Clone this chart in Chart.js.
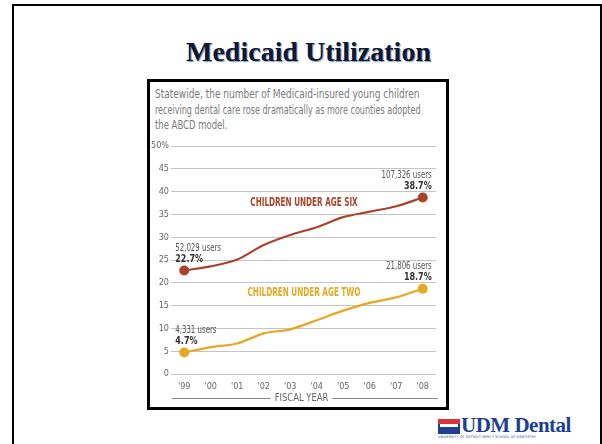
<!DOCTYPE html>
<html>
<head>
<meta charset="utf-8">
<script src="https://cdn.jsdelivr.net/npm/chart.js@4.4.1/dist/chart.umd.min.js"></script>
<style>
  html, body { margin: 0; padding: 0; background: #fff; }
  body { width: 602px; height: 444px; position: relative; overflow: hidden; }
  .frame { position: absolute; left: 12px; top: 4px; width: 586px; height: 460px; border: 2px solid #000; }
  .title {
    position: absolute; left: 0; width: 617px; top: 36px; text-align: center;
    font-family: 'Liberation Serif', 'DejaVu Serif', serif; font-weight: bold; font-size: 28px;
    color: #10182e; text-shadow: 1px 1px 1px #7a9cc8;
  }
  .box { position: absolute; left: 147px; top: 79px; width: 296px; height: 325px; border: 3px solid #000; }
  .caption {
    position: absolute; left: 155px; top: 87px;
    font-family: 'Liberation Sans Narrow', 'DejaVu Sans Condensed', sans-serif; font-size: 11.5px;
    line-height: 15.5px; color: #7a7a7a;
  }
  .caption div { white-space: nowrap; transform-origin: left top; }
  #chartWrap { position: absolute; left: 150px; top: 130px; width: 296px; height: 278px; }
  .logo { position: absolute; left: 438px; top: 414px; width: 140px; height: 26px; }
  .flag { position: absolute; left: 0; top: 5px; width: 22px; height: 15px; background: #1c3f94; }
  .flag .red { position: absolute; left: 0; top: 0; width: 22px; height: 5px; background: #d8343a; }
  .flag .white { position: absolute; left: 2px; top: 5px; width: 18px; height: 3px; background: #fff; }
  .logo .name {
    position: absolute; left: 23px; top: -1px; font-family: 'Liberation Serif', 'DejaVu Serif', serif;
    font-weight: bold; font-size: 21px; color: #1c3f94; letter-spacing: -0.5px; white-space: nowrap;
  }
  .logo .sub {
    position: absolute; left: 0; top: 21px; font-family: 'DejaVu Sans Condensed', sans-serif;
    font-size: 3.5px; color: #1c3f94; white-space: nowrap; letter-spacing: 0.2px;
  }
</style>
</head>
<body>
<div class="frame"></div>
<div class="title">Medicaid Utilization</div>
<div class="box"></div>
<div class="caption">
  <div style="transform: scaleX(0.87)">Statewide, the number of Medicaid-insured young children</div>
  <div style="transform: scaleX(0.78)">receiving dental care rose dramatically as more counties adopted</div>
  <div style="transform: scaleX(0.82)">the ABCD model.</div>
</div>
<div id="chartWrap"><canvas id="chart" width="296" height="278"></canvas></div>
<div class="logo">
  <div class="flag"><div class="red"></div><div class="white"></div></div>
  <div class="name">UDM Dental</div>
  <div class="sub">UNIVERSITY OF DETROIT MERCY SCHOOL OF DENTISTRY</div>
</div>

<script>
// data
const years = ["'99", "'00", "'01", "'02", "'03", "'04", "'05", "'06", "'07", "'08"];
const underSix = [22.7, 23.6, 25.1, 28.3, 30.5, 32.2, 34.4, 35.6, 36.8, 38.7];
const underTwo = [4.7, 5.9, 6.7, 8.9, 9.8, 11.8, 13.9, 15.6, 16.8, 18.7];
const seriesNames = ['CHILDREN UNDER AGE SIX', 'CHILDREN UNDER AGE TWO'];
const firstUsers = ['52,029 users', '4,331 users'];
const lastUsers = ['107,326 users', '21,806 users'];
const yTicks = [0, 5, 10, 15, 20, 25, 30, 35, 40, 45, 50];
const axisTitle = 'FISCAL YEAR';

const RED = '#a9432b';
const GOLD = '#e6a823';
const NARROW = "'Liberation Sans Narrow', 'DejaVu Sans Condensed', sans-serif";

// text squeezed horizontally, the picture uses a condensed face
function narrowText(ctx, text, x, y, sx) {
    ctx.save();
    ctx.translate(x, y);
    ctx.scale(sx, 1);
    ctx.fillText(text, 0, 0);
    ctx.restore();
}

// labels next to the end points, series names and the axis title with its rules
const annotations = {
    id: 'annotations',
    afterDatasetsDraw(chart) {
        const ctx = chart.ctx;
        const x = chart.scales.x, y = chart.scales.y;
        ctx.save();
        ctx.textBaseline = 'middle';

        chart.data.datasets.forEach((ds, i) => {
            const meta = chart.getDatasetMeta(i);
            const p0 = meta.data[0];
            const p1 = meta.data[meta.data.length - 1];

            ctx.fillStyle = '#555';
            ctx.font = '10px ' + NARROW;
            ctx.textAlign = 'left';
            narrowText(ctx, firstUsers[i], p0.x - 9, p0.y - 22, 0.78);
            ctx.textAlign = 'right';
            narrowText(ctx, lastUsers[i], p1.x + 9, p1.y - 22, 0.78);

            ctx.fillStyle = '#333';
            ctx.font = 'bold 10.5px ' + NARROW;
            ctx.textAlign = 'left';
            narrowText(ctx, ds.data[0].toFixed(1) + '%', p0.x - 9, p0.y - 11, 0.85);
            ctx.textAlign = 'right';
            narrowText(ctx, ds.data[ds.data.length - 1].toFixed(1) + '%', p1.x + 9, p1.y - 11, 0.85);
        });

        // series names, centred between the '03 and '04 points
        const pts = chart.getDatasetMeta(0).data;
        const nameX = (pts[4].x + pts[5].x) / 2 + 0.5;
        ctx.textAlign = 'center';
        ctx.font = 'bold 11.5px ' + NARROW;
        ctx.fillStyle = RED;
        narrowText(ctx, seriesNames[0], nameX, y.getPixelForValue(37.5), 0.7);
        ctx.fillStyle = GOLD;
        narrowText(ctx, seriesNames[1], nameX, y.getPixelForValue(17.8), 0.7);

        // fiscal year title with lines
        const ty = chart.chartArea.bottom + 24;
        const cx = (x.left + x.right) / 2 - 2;
        ctx.font = '11px ' + NARROW;
        ctx.fillStyle = '#666';
        narrowText(ctx, axisTitle, cx, ty, 0.85);
        const w = ctx.measureText(axisTitle).width * 0.85;
        ctx.strokeStyle = '#888';
        ctx.lineWidth = 1;
        ctx.beginPath();
        ctx.moveTo(x.left + 1, ty + 0.5);
        ctx.lineTo(cx - w / 2 - 4, ty + 0.5);
        ctx.moveTo(cx + w / 2 + 4, ty + 0.5);
        ctx.lineTo(x.right + 2, ty + 0.5);
        ctx.stroke();
        ctx.restore();
    }
};

function endPoints(ctx) {
    const n = ctx.dataset.data.length;
    return (ctx.dataIndex === 0 || ctx.dataIndex === n - 1) ? 5 : 0;
}

new Chart(document.getElementById('chart'), {
    type: 'line',
    data: {
        labels: years,
        datasets: [{
            label: seriesNames[0],
            data: underSix,
            borderColor: RED,
            backgroundColor: RED,
            borderWidth: 2.2,
            tension: 0.3,
            pointRadius: endPoints,
            pointBorderWidth: 0
        }, {
            label: seriesNames[1],
            data: underTwo,
            borderColor: GOLD,
            backgroundColor: GOLD,
            borderWidth: 2.2,
            tension: 0.3,
            pointRadius: endPoints,
            pointBorderWidth: 0
        }]
    },
    options: {
        responsive: false,
        animation: false,
        events: [],
        layout: { padding: { top: 16, right: 10, left: 0, bottom: 0 } },
        plugins: {
            legend: { display: false },
            title: { display: false },
            tooltip: { enabled: false }
        },
        scales: {
            x: {
                offset: true,
                grid: { display: false, drawTicks: false },
                border: { display: false },
                ticks: { color: '#666', padding: 7, font: { family: NARROW, size: 9 } },
                afterFit(scale) { scale.height = 34; }
            },
            y: {
                min: 0,
                max: 50,
                afterBuildTicks(scale) { scale.ticks = yTicks.map(v => ({ value: v })); },
                grid: { color: '#c4c4c4', lineWidth: 1, drawTicks: false },
                border: { display: false },
                ticks: {
                    color: '#666',
                    padding: 2,
                    font: { family: NARROW, size: 9 },
                    callback: v => v === 50 ? '50%' : v
                },
                afterFit(scale) { scale.width = 21; }
            }
        }
    },
    plugins: [annotations]
});
</script>
</body>
</html>
